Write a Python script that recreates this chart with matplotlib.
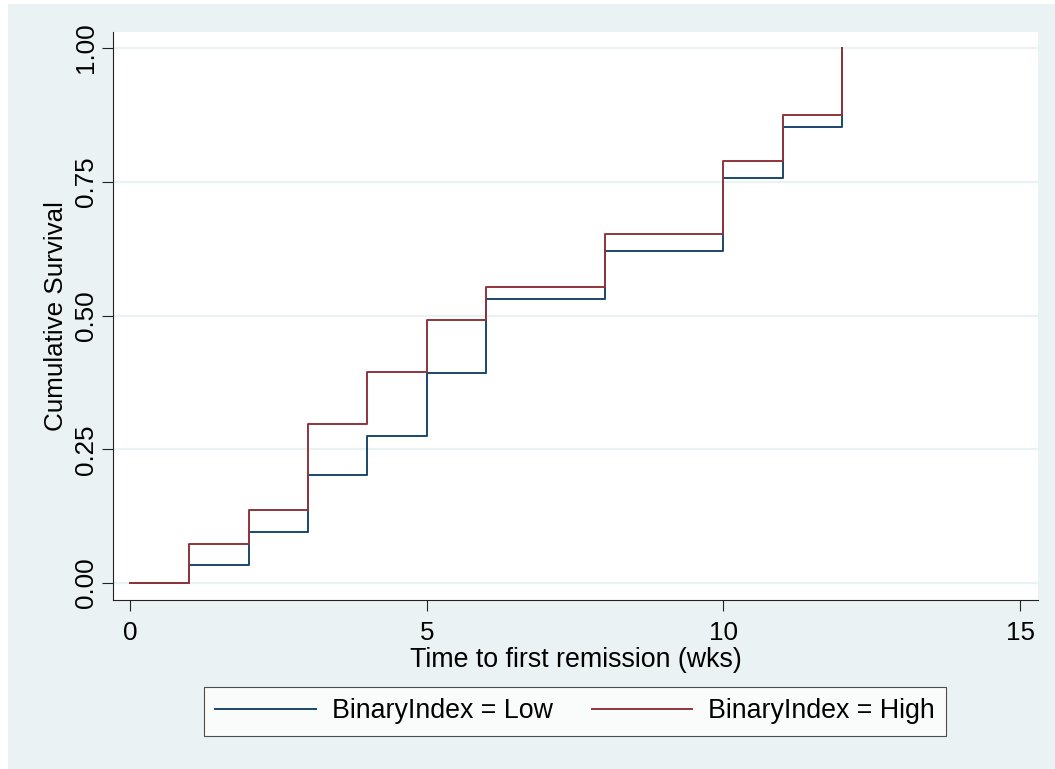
import matplotlib
matplotlib.use("Agg")
import matplotlib.pyplot as plt
from matplotlib.patches import Rectangle

plt.rcParams['font.family'] = ['Liberation Sans', 'DejaVu Sans']

times = [0, 1, 2, 3, 4, 5, 6, 8, 10, 11, 12]
low = [0.0, 0.034, 0.095, 0.202, 0.275, 0.393, 0.531, 0.621, 0.757, 0.853, 1.0]
high = [0.0, 0.073, 0.136, 0.297, 0.394, 0.492, 0.554, 0.653, 0.788, 0.875, 1.0]
labels = ["BinaryIndex = Low", "BinaryIndex = High"]
xticks = [0, 5, 10, 15]
yticks = [0.0, 0.25, 0.5, 0.75, 1.0]

W, H = 1055, 769
fig = plt.figure(figsize=(W / 100, H / 100), dpi=100, facecolor='white')
bg = '#EAF2F3'
fig.patches.append(Rectangle((8 / W, 0), (W - 8) / W, (H - 4) / H,
                             transform=fig.transFigure, facecolor=bg,
                             edgecolor='none', zorder=-10))

ax = fig.add_axes([113 / W, 1 - 600 / H, (1038 - 113) / W, (600 - 32) / H])
ax.set_facecolor('white')

navy = '#1A476F'
maroon = '#90353B'
l1, = ax.step(times, low, where='post', color=navy, lw=1.4, label=labels[0], zorder=3)
l2, = ax.step(times, high, where='post', color=maroon, lw=1.4, label=labels[1], zorder=4)

ax.set_xlim(-0.287, 15.30)
ax.set_ylim(-0.0318, 1.030)
ax.set_xticks(xticks)
ax.set_xticklabels([str(t) for t in xticks])
ax.set_yticks(yticks)
ax.set_yticklabels([f"{v:.2f}" for v in yticks], rotation=90, va='center')

ax.grid(axis='y', color=bg, lw=1.6, zorder=1)
ax.grid(axis='x', visible=False)
for s in ['top', 'right']:
    ax.spines[s].set_visible(False)
for s in ['left', 'bottom']:
    ax.spines[s].set_linewidth(0.8)
    ax.spines[s].set_color('#222222')

fs = 18.7
ax.tick_params(axis='both', direction='out', length=8, width=0.8,
               color='#222222', labelsize=fs)
ax.tick_params(axis='y', pad=3)
ax.tick_params(axis='x', pad=7)
ax.set_xlabel("Time to first remission (wks)", fontsize=19.3, labelpad=1.5)
ax.set_ylabel("Cumulative Survival", fontsize=fs, labelpad=4)

leg = fig.legend(handles=[l1, l2], labels=labels, loc='center',
                 bbox_to_anchor=(575 / W, 1 - 711.5 / H), ncol=2,
                 fontsize=19.3, frameon=True, fancybox=False,
                 handlelength=3.75, handletextpad=0.6, columnspacing=1.45,
                 borderpad=0.42, borderaxespad=0)
leg.get_frame().set_edgecolor('#222222')
leg.get_frame().set_linewidth(0.8)
leg.get_frame().set_facecolor('white')

fig.savefig('out.png', dpi=100, facecolor='white')
